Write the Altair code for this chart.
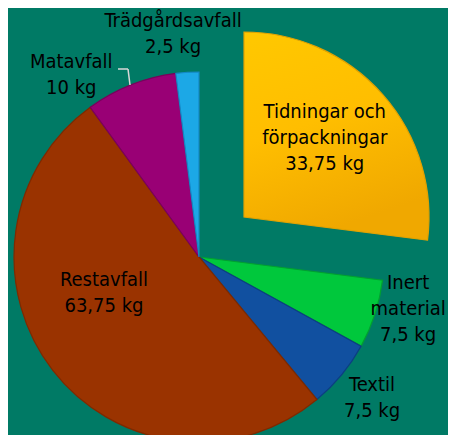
import math
import altair as alt
import pandas as pd

categories = ["Tidningar och förpackningar", "Inert material", "Textil",
              "Restavfall", "Matavfall", "Trädgårdsavfall"]
values = [33.75, 7.5, 7.5, 63.75, 10, 2.5]
label_lines = [["Tidningar och", "förpackningar", "33,75 kg"],
               ["Inert", "material", "7,5 kg"],
               ["Textil", "7,5 kg"],
               ["Restavfall", "63,75 kg"],
               ["Matavfall", "10 kg"],
               ["Trädgårdsavfall", "2,5 kg"]]
fills = ["#FFC000", "#00C83C", "#1150A0", "#9A3300", "#990075", "#1CA8E6"]
edges = ["#E3A200", "#00A030", "#0C3F82", "#7E2A00", "#7A005C", "#1488C4"]

BG = "#007A65"
CX, CY, R = 191, 249, 185
EXPLODE = (45, -40)
FONT = "DejaVu Sans Condensed, DejaVu Sans"
LH = 26

df = pd.DataFrame({
    "category": categories,
    "value": values,
    "order": list(range(len(values))),
    "label": ["\n".join(l) for l in label_lines],
})
total = sum(values)

th_scale = alt.Scale(domain=[0, total], range=[0, 2 * math.pi])
color = alt.Color("category:N", scale=alt.Scale(domain=categories, range=fills), legend=None)
stroke = alt.Stroke("category:N", scale=alt.Scale(domain=categories, range=edges), legend=None)

base = (alt.Chart(df)
        .transform_window(end="sum(value)", sort=[alt.SortField("order")], frame=[None, 0])
        .transform_calculate(start="datum.end - datum.value")
        .transform_calculate(mid="datum.end - datum.value / 2"))

theta_enc = dict(theta=alt.Theta("start:Q", scale=th_scale, stack=None), theta2="end:Q")

arcs = base.transform_filter("datum.order != 0").mark_arc(
    x=CX, y=CY, outerRadius=R, strokeWidth=1.2).encode(color=color, stroke=stroke, **theta_enc)

yellow_grad = alt.LinearGradient(
    gradient="linear", x1=0, y1=0, x2=0.3, y2=1,
    stops=[alt.GradientStop(color="#FFC800", offset=0),
           alt.GradientStop(color="#FFBE00", offset=0.5),
           alt.GradientStop(color="#F0A800", offset=1)])
exploded = base.transform_filter("datum.order == 0").mark_arc(
    x=CX, y=CY, xOffset=EXPLODE[0], yOffset=EXPLODE[1], outerRadius=R,
    strokeWidth=1.2, fill=yellow_grad).encode(stroke=stroke, **theta_enc)

# label placement: (radius, dx, dy, exploded)
placement = {
    0: (113, -4, -4, True),
    1: (222, -2, -17, False),
    2: (222, 2, -1, False),
    3: (100, -16, -25, False),
    4: (222, -46, 24, False),
    5: (222, -12, -1, False),
}
texts = []
for i, (rad, dx, dy, ex) in placement.items():
    n = len(label_lines[i])
    kw = dict(x=CX, y=CY, radius=rad, dx=dx, dy=dy - (n - 1) * LH / 2, font=FONT,
              fontSize=20, lineBreak="\n", lineHeight=LH, color="#000000",
              align="center", baseline="middle")
    if ex:
        kw.update(xOffset=EXPLODE[0], yOffset=EXPLODE[1])
    texts.append(base.transform_filter(f"datum.order == {i}").mark_text(**kw).encode(
        theta=alt.Theta("mid:Q", scale=th_scale, stack=None), text="label:N"))

leader = base.transform_filter("datum.order == 4")
lead1 = leader.mark_rule(color="#D8D8D8", strokeWidth=1.5).encode(
    x=alt.value(110), x2=alt.value(120), y=alt.value(61), y2=alt.value(61))
lead2 = leader.mark_rule(color="#D8D8D8", strokeWidth=1.5).encode(
    x=alt.value(120), x2=alt.value(122), y=alt.value(61), y2=alt.value(77))

chart = alt.layer(arcs, exploded, lead1, lead2, *texts).properties(
    width=440, height=427, padding=0, autosize="none", background=BG
).configure_view(strokeWidth=0)

chart.save("out.html", embed_options={"renderer": "svg", "actions": False})
